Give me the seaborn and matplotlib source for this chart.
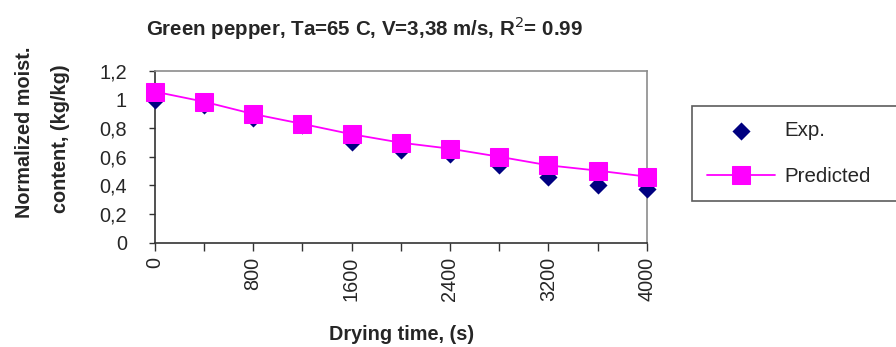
import matplotlib
matplotlib.use("Agg")
import matplotlib.pyplot as plt
import seaborn as sns
import pandas as pd
import numpy as np

# Data
time_s = [0, 400, 800, 1200, 1600, 2000, 2400, 2800, 3200, 3600, 4000]
exp_vals = [0.995, 0.96, 0.868, 0.82, 0.705, 0.647, 0.619, 0.542, 0.461, 0.403, 0.372]
pred_vals = [1.054, 0.984, 0.898, 0.829, 0.757, 0.698, 0.656, 0.600, 0.540, 0.503, 0.461]
x_ticks = [0, 400, 800, 1200, 1600, 2000, 2400, 2800, 3200, 3600, 4000]
x_ticklabels = ["0", "", "800", "", "1600", "", "2400", "", "3200", "", "4000"]
y_ticks = [0, 0.2, 0.4, 0.6, 0.8, 1.0, 1.2]
y_ticklabels = ["0", "0,2", "0,4", "0,6", "0,8", "1", "1,2"]

sns.set_theme(style="white")
plt.rcParams['font.family'] = ['Liberation Sans', 'DejaVu Sans']

W, H = 896, 347
fig = plt.figure(figsize=(W / 100, H / 100), dpi=100)
ax = fig.add_axes([154.7 / W, 1 - 242.7 / H, (646.7 - 154.7) / W, (242.7 - 70.7) / H])

df = pd.DataFrame({"t": time_s, "exp": exp_vals, "pred": pred_vals})

sns.scatterplot(data=df, x="t", y="exp", marker="D", s=85, color="#000080",
                edgecolor="#000080", linewidth=0, ax=ax, label="Exp.", zorder=3, clip_on=False)
sns.lineplot(data=df, x="t", y="pred", marker="s", markersize=12.5, color="#FF00FF",
             markeredgecolor="#FF00FF", linewidth=1.3, ax=ax, label="Predicted",
             zorder=4, clip_on=False)

ax.set_xlim(0, 4000)
ax.set_ylim(0, 1.2)
ax.set_xticks(x_ticks)
ax.set_xticklabels(x_ticklabels, rotation=90, fontsize=14.3)
ax.set_yticks(y_ticks)
ax.set_yticklabels(y_ticklabels, fontsize=14.3)
ax.tick_params(axis="x", direction="out", length=6, width=1, color="#333333", pad=4)
ax.tick_params(axis="y", direction="out", length=4, width=1, color="#333333", pad=16)
ax.tick_params(bottom=True, left=True)
for s in ["left", "bottom"]:
    ax.spines[s].set_color("#333333")
    ax.spines[s].set_linewidth(1.2)
for s in ["top", "right"]:
    ax.spines[s].set_color("#8c8c8c")
    ax.spines[s].set_linewidth(1.2)
ax.set_xlabel("")
ax.set_ylabel("")

fig.text(364 / W, 1 - 28 / H, "Green pepper, Ta=65 C, V=3,38 m/s, R$^2$= 0.99",
         ha="center", va="center", fontsize=14.8, fontweight="bold")
fig.text(402 / W, 1 - 335 / H, "Drying time, (s)", ha="center", va="center",
         fontsize=14.3, fontweight="bold")
fig.text(25 / W, 1 - 132.5 / H, "Normalized moist.", ha="center", va="center",
         rotation=90, fontsize=14.3, fontweight="bold")
fig.text(61 / W, 1 - 138.5 / H, "content, (kg/kg)", ha="center", va="center",
         rotation=90, fontsize=14.3, fontweight="bold")

leg = ax.legend(loc="upper left", bbox_to_anchor=(692 / W, 1 - 200.7 / H, 0.3, 95 / H),
                bbox_transform=fig.transFigure, mode="expand", fontsize=14.8,
                frameon=True, fancybox=False, borderpad=0.75, labelspacing=1.3,
                handlelength=3.3, handletextpad=0.45, borderaxespad=0)
leg.get_frame().set_edgecolor("#333333")
leg.get_frame().set_linewidth(1.2)

fig.savefig("out.png", dpi=100, facecolor="white")
